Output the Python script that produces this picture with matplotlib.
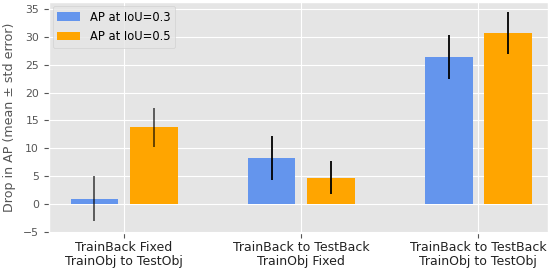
import numpy as np
import matplotlib
matplotlib.use('Agg')
import matplotlib.pyplot as plt

# данные
groups = ['TrainBack Fixed\nTrainObj to TestObj',
          'TrainBack to TestBack\nTrainObj Fixed',
          'TrainBack to TestBack\nTrainObj to TestObj']
ap03 = [1.0, 8.3, 26.3]
ap03_err = [4.0, 4.0, 3.95]
ap05 = [13.8, 4.75, 30.7]
ap05_err = [3.45, 2.95, 3.75]
err_alpha = [0.65, 1.0, 1.0]

plt.style.use('ggplot')
fig = plt.figure(figsize=(5.48, 2.69), dpi=100)
ax = fig.add_axes([0.089, 0.134, 0.911, 0.859])

x = np.arange(len(groups))
w = 0.27
off = 0.167

ax.bar(x - off, ap03, w, color='cornflowerblue', label='AP at IoU=0.3')
ax.bar(x + off, ap05, w, color='orange', label='AP at IoU=0.5')

# усы ошибок
for i in range(len(x)):
    ax.errorbar(x[i] - off, ap03[i], yerr=ap03_err[i], fmt='none',
                ecolor='black', elinewidth=1.3, alpha=err_alpha[i])
    ax.errorbar(x[i] + off, ap05[i], yerr=ap05_err[i], fmt='none',
                ecolor='black', elinewidth=1.3, alpha=err_alpha[i])

ax.set_xticks(x)
ax.set_xticklabels(groups, fontsize=9, color='#222222', linespacing=1.05)
ax.set_yticks(np.arange(-5, 36, 5))
ax.tick_params(axis='y', labelsize=7.8, labelcolor='#555555')
ax.tick_params(axis='x', pad=2.5)
ax.set_ylim(-5.1, 36.2)
ax.set_xlim(-0.425, 2.394)
ax.set_ylabel('Drop in AP (mean ± std error)', fontsize=9.1, color='#555555',
              labelpad=5)

ax.legend(loc='upper left', fontsize=8.3, framealpha=0.8, labelspacing=0.6,
          borderaxespad=0.35)

fig.savefig('out.png', dpi=100)
